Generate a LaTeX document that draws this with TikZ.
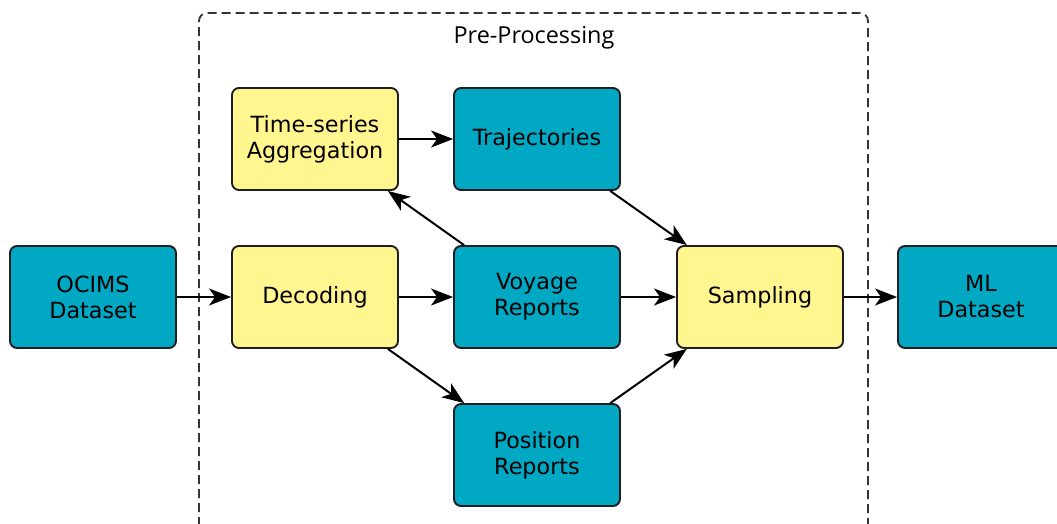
\documentclass[tikz,border=0pt]{standalone}
\usepackage{fontspec}
\setmainfont{DejaVu Sans}
\newfontfamily\titlefont{Open Sans}
\usetikzlibrary{arrows.meta}
\definecolor{stagecyan}{HTML}{00A8C4}
\definecolor{stageyellow}{HTML}{FFF68F}
\definecolor{edgedark}{HTML}{1E1E1E}
\tikzset{
  stagebox/.style={draw=edgedark, line width=1.9pt, rounded corners=7pt,
    minimum width=166pt, minimum height=102pt, inner sep=0pt, align=center,
    font=\fontsize{22.3}{26}\selectfont},
  datastage/.style={stagebox, fill=stagecyan},
  procstage/.style={stagebox, fill=stageyellow},
  flow/.style={line width=2pt, draw=black,
    -{Stealth[length=22pt, width=17pt, inset=6pt]}},
  groupframe/.style={draw=edgedark!90, line width=1.8pt, dashed,
    dash pattern=on 9pt off 5pt, rounded corners=8pt}
}
\begin{document}
\begin{tikzpicture}[x=1pt, y=-1pt]
  \clip (0,0) rectangle (1057,523);
  \fill[white] (0,0) rectangle (1057,523);

  % pre-processing group
  \draw[groupframe] (199,540) -- (199,13) -- (868,13) -- (868,540);
  \node[font=\titlefont\fontsize{23.4}{28}\selectfont] (grouptitle) at (534,38) {Pre-Processing};

  % stages
  \node[datastage] (ocims) at (93,297) {OCIMS\\Dataset};
  \node[procstage] (decode) at (315,297) {Decoding};
  \node[procstage] (tsagg) at (315,139) {Time-series\\Aggregation};
  \node[datastage] (traj) at (537,139) {Trajectories};
  \node[datastage] (voyage) at (537,297) {Voyage\\Reports};
  \node[datastage] (position) at (537,455) {Position\\Reports};
  \node[procstage] (sampling) at (760,297) {Sampling};
  \node[datastage] (mldata) at (981,297) {ML\\Dataset};

  % flows
  \draw[flow] (ocims) -- (decode);
  \draw[flow] (decode) -- (voyage);
  \draw[flow] (decode) -- (position);
  \draw[flow] (voyage) -- (tsagg);
  \draw[flow] (tsagg) -- (traj);
  \draw[flow] (voyage) -- (sampling);
  \draw[flow] (traj) -- (sampling);
  \draw[flow] (position) -- (sampling);
  \draw[flow] (sampling) -- (mldata);
\end{tikzpicture}
\end{document}
